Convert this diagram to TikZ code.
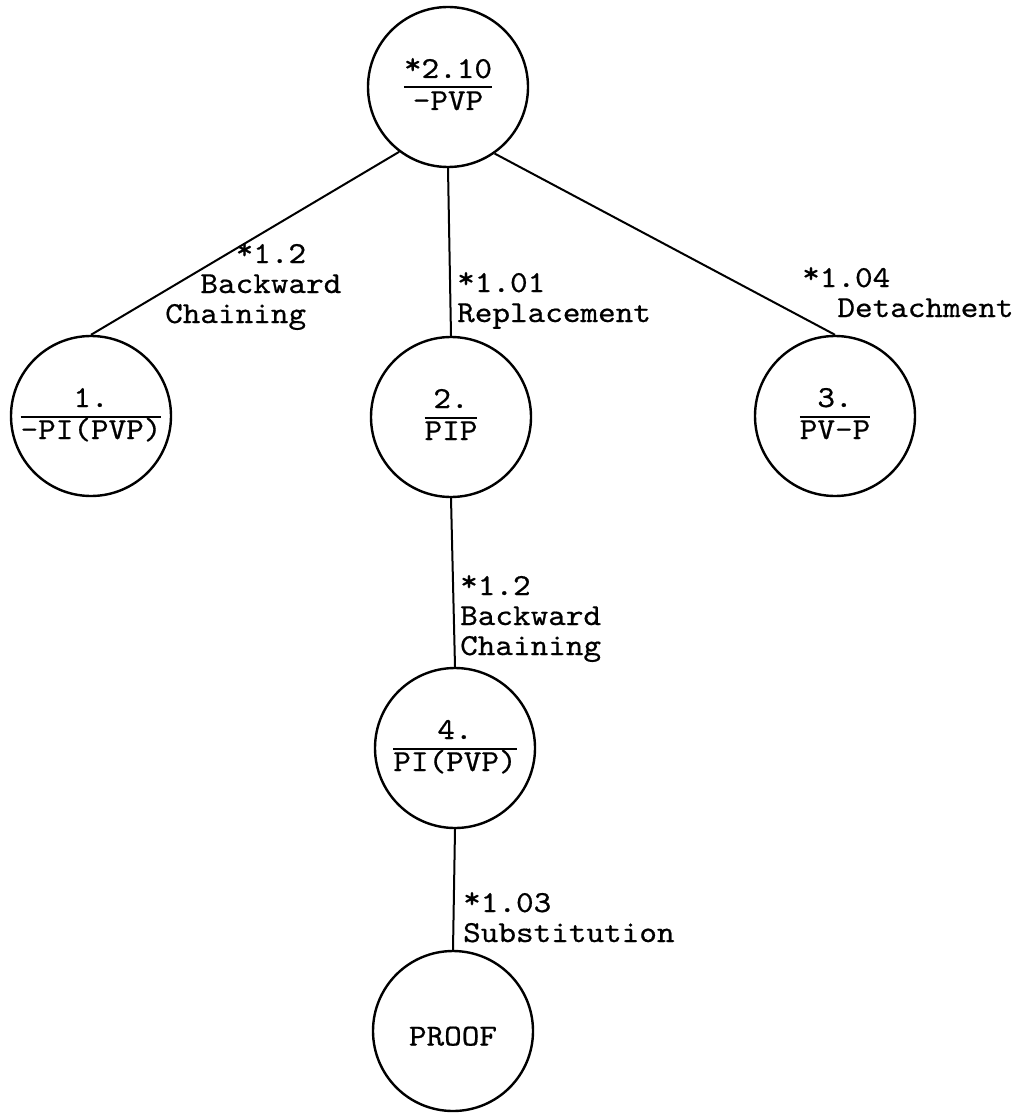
\documentclass[tikz,border=0pt]{standalone}
\usepackage{fontspec}
\setmonofont{lmmono10-regular}[Extension=.otf, FakeStretch=1.1, FakeBold=0.6]

% typewriter asterisk, set high as on the original machine
\newcommand\hiast{\raisebox{4pt}{*}}
% a goal: number over a rule over the formula
\newcommand\stmt[2]{\vbox{\offinterlineskip\halign{\hfil##\hfil\cr
  \raisebox{0pt}[17pt][0pt]{#1}\cr
  \noalign{\kern8.5pt\hrule height 2pt\kern4.5pt}
  \raisebox{0pt}[17pt][3pt]{#2}\cr}}}
% a rule name, one typed line per row
\newcommand\rname[1]{\begin{tabular}[t]{@{}l@{}}#1\end{tabular}}

\begin{document}
\begin{tikzpicture}[x=1pt, y=-1pt,
  every node/.style={font=\ttfamily\fontsize{30.5}{30}\selectfont},
  goal/.style={draw, circle, line width=2.4pt, minimum size=160pt, inner sep=0pt},
  link/.style={line width=2pt},
  lbl/.style={inner sep=0pt, anchor=base west}]
\useasboundingbox (0,0) rectangle (1022,1113);

% goals
\node[goal] (top)   at (448,87)   {\stmt{\hiast2.10}{-PVP}};
\node[goal] (n1)    at (91,416)   {\stmt{1.}{-PI(PVP)}};
\node[goal] (n2)    at (451,417)  {\stmt{2.}{PIP}};
\node[goal] (n3)    at (835,416)  {\stmt{3.}{PV-P}};
\node[goal] (n4)    at (455,748)  {\stmt{4.}{PI(PVP)}};
\node[goal] (proof) at (453,1031) {\raisebox{-6pt}[17pt][0pt]{PROOF}};

% inference steps
\draw[link] (top.233)   -- (n1.north);
\draw[link] (top.south) -- (n2.north);
\draw[link] (top.305)   -- (n3.north);
\draw[link] (n2.south)  -- (n4.north);
\draw[link] (n4.south)  -- (proof.north);

% rule names
\node[lbl] (r1) at (165,263) {\rname{\phantom{xxxx}\hiast1.2\\\phantom{xx}Backward\\Chaining}};
\node[lbl] (r2) at (457,292) {\rname{\hiast1.01\\Replacement}};
\node[lbl] (r3) at (802,287) {\rname{\hiast1.04\\\phantom{xx}Detachment}};
\node[lbl] (r4) at (460,595) {\rname{\hiast1.2\\Backward\\Chaining}};
\node[lbl] (r5) at (463,912) {\rname{\hiast1.03\\Substitution}};
\end{tikzpicture}
\end{document}
